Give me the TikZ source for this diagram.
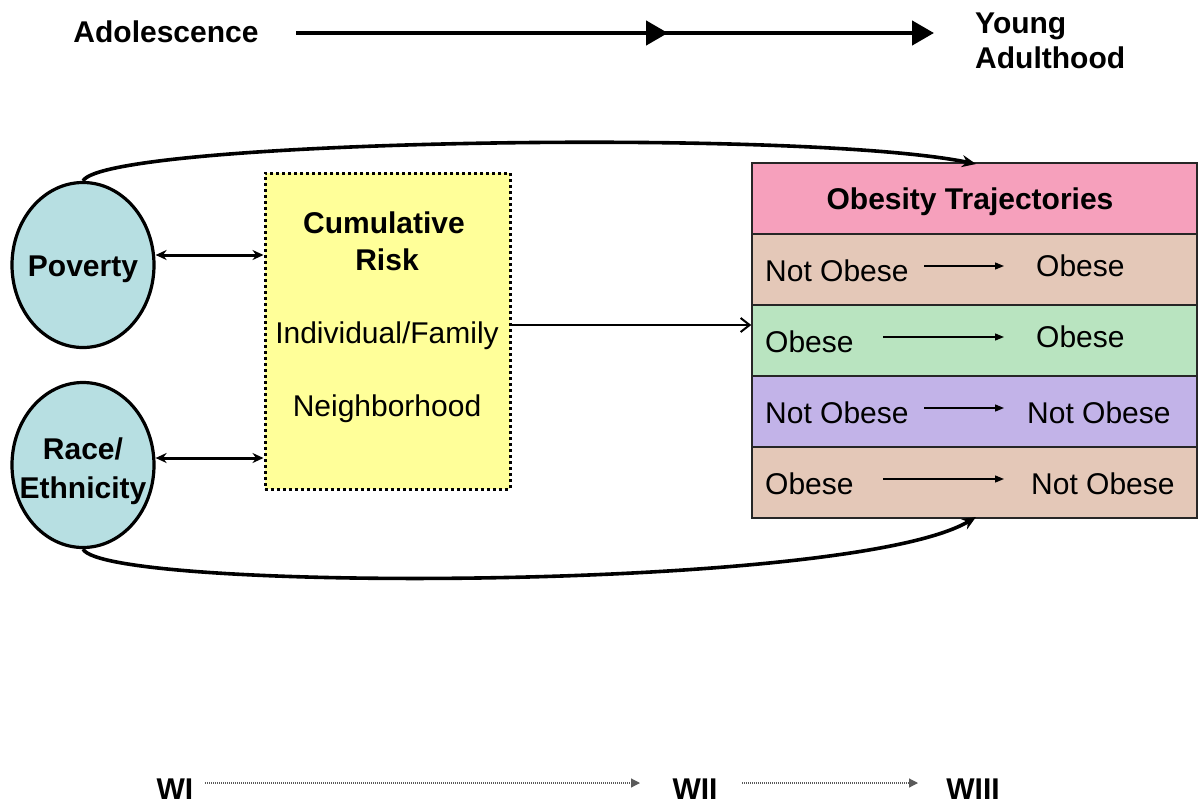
\documentclass[tikz,border=0pt]{standalone}
\usepackage{fontspec}
\setmainfont{Liberation Sans}
\usetikzlibrary{shapes.geometric,arrows.meta}
\definecolor{teal1}{RGB}{183,223,226}
\definecolor{ylw}{RGB}{255,255,153}
\definecolor{pink1}{RGB}{246,160,188}
\definecolor{tan1}{RGB}{228,200,184}
\definecolor{grn1}{RGB}{185,228,192}
\definecolor{lav1}{RGB}{194,179,232}
\definecolor{dots}{RGB}{90,90,90}
\tikzset{
  big/.style={font=\fontsize{30}{36}\selectfont},
  bigb/.style={font=\fontsize{30}{36}\selectfont\bfseries},
  oval/.style={ellipse,draw,line width=3.2pt,fill=teal1,minimum width=142pt,minimum height=165pt,inner sep=0pt},
  txt/.style={big,anchor=base,inner sep=0pt},
  txtb/.style={bigb,anchor=base,inner sep=0pt},
  rowbox/.style={draw=black!85,line width=1.5pt,minimum width=445pt,minimum height=71pt,inner sep=0pt},
  cell/.style={big,anchor=base west,inner sep=0pt},
  rowarrow/.style={line width=1.3pt,-{Triangle[length=9pt,width=7pt]}},
  dbl/.style={line width=3pt,{Stealth[length=11pt,width=10pt]}-{Stealth[length=11pt,width=10pt]}},
  curvearrow/.style={line width=3.6pt,-{Stealth[length=14pt,width=12pt]}},
  timeline/.style={line width=4.5pt,-{Triangle[length=22pt,width=24pt]}},
  dotarrow/.style={line width=1.2pt,dots,dash pattern=on 1pt off 1pt,-{Triangle[length=9pt,width=9pt]}}
}
\begin{document}
\begin{tikzpicture}[x=1pt,y=-1pt]
\useasboundingbox (0,0) rectangle (1199,806);
\fill[white] (0,0) rectangle (1199,806);

% top timeline
\node[txtb] (adol) at (166,42) {Adolescence};
\node[txtb,anchor=base west] (ya1) at (975,33) {Young};
\node[txtb,anchor=base west] (ya2) at (975,68) {Adulthood};
\coordinate (t0) at (296,33);
\coordinate (t1) at (668,33);
\coordinate (t2) at (645,33);
\coordinate (t3) at (934,33);
\draw[timeline] (t0) -- (t1);
\draw[timeline] (t2) -- (t3);

% ovals
\node[oval] (pov) at (83,265) {};
\node[txtb] (povt) at (83,276) {Poverty};
\node[oval] (race) at (83,465) {};
\node[txtb] (racet1) at (83,459) {Race/};
\node[txtb] (racet2) at (83,498) {Ethnicity};

% cumulative risk box
\node[draw,fill=ylw,line width=3pt,dash pattern=on 3pt off 3pt,minimum width=245pt,minimum height=316pt,inner sep=0pt] (cr) at (387.5,331) {};
\node[txtb] (crt1) at (384,233) {Cumulative};
\node[txtb] (crt2) at (387,270) {Risk};
\node[txt] (ind) at (387,343) {Individual/Family};
\node[txt] (nbh) at (387,416) {Neighborhood};

% table
\node[rowbox,fill=pink1] (hd) at (974.5,198.5) {};
\node[txtb] (hdt) at (970,209) {Obesity Trajectories};
\node[rowbox,fill=tan1] (r1) at (974.5,269.5) {};
\node[rowbox,fill=grn1] (r2) at (974.5,340.5) {};
\node[rowbox,fill=lav1] (r3) at (974.5,411.5) {};
\node[rowbox,fill=tan1] (r4) at (974.5,482.5) {};

\node[cell] (a1) at (765,281) {Not Obese};
\node[cell] (b1) at (1036,276) {Obese};
\node[cell] (a2) at (765,352) {Obese};
\node[cell] (b2) at (1036,347) {Obese};
\node[cell] (a3) at (765,423) {Not Obese};
\node[cell] (b3) at (1027,423) {Not Obese};
\node[cell] (a4) at (765,494) {Obese};
\node[cell] (b4) at (1031,494) {Not Obese};

\coordinate (p1s) at (924,266); \coordinate (p1e) at (1004,266);
\coordinate (p2s) at (883,337); \coordinate (p2e) at (1004,337);
\coordinate (p3s) at (924,408); \coordinate (p3e) at (1004,408);
\coordinate (p4s) at (883,479); \coordinate (p4e) at (1004,479);
\draw[rowarrow] (p1s) -- (p1e);
\draw[rowarrow] (p2s) -- (p2e);
\draw[rowarrow] (p3s) -- (p3e);
\draw[rowarrow] (p4s) -- (p4e);

% connectors
\draw[dbl] (pov.east |- 0,255) -- (cr.west |- 0,255);
\draw[dbl] (race.east |- 0,458) -- (cr.west |- 0,458);
\draw[line width=2pt,-{Straight Barb[length=9pt,width=14pt,line width=2pt]}] (cr.east |- 0,325) -- (r2.west |- 0,325);

\coordinate (ttop) at (976,164);
\coordinate (tbot) at (976,517);
\draw[curvearrow] (pov.north) .. controls (105,140) and (800,128) .. (ttop);
\draw[curvearrow] (race.south) .. controls (105,592) and (850,592) .. (tbot);

% bottom waves
\node[txtb] (w1) at (175,799) {WI};
\node[txtb] (w2) at (695,799) {WII};
\node[txtb] (w3) at (973,799) {WIII};
\coordinate (d1s) at (205,783); \coordinate (d1e) at (640,783);
\coordinate (d2s) at (742,783); \coordinate (d2e) at (918,783);
\draw[dotarrow] (d1s) -- (d1e);
\draw[dotarrow] (d2s) -- (d2e);
\end{tikzpicture}
\end{document}
